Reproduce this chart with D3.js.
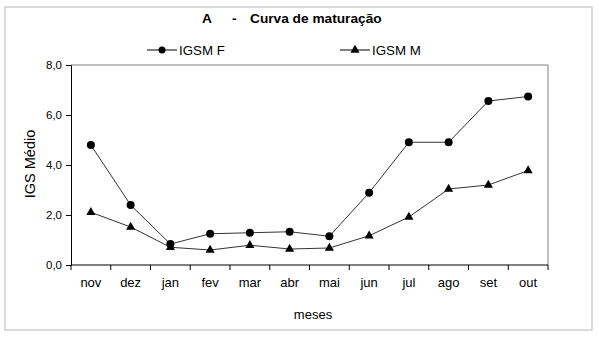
<!DOCTYPE html>
<html><head><meta charset="utf-8">
<script src="https://cdn.jsdelivr.net/npm/d3@7"></script>
<style>body{margin:0;background:#fff}svg{display:block;font-family:"Liberation Sans",Arial,sans-serif}</style>
</head><body>
<svg id="c" width="599" height="341"></svg>
<script>
const months = ["nov","dez","jan","fev","mar","abr","mai","jun","jul","ago","set","out"];
const igsmF = [4.8,2.4,0.84,1.25,1.29,1.33,1.15,2.89,4.91,4.91,6.56,6.74];
const igsmM = [2.11,1.52,0.71,0.6,0.79,0.64,0.68,1.17,1.92,3.04,3.2,3.78];
const yTicks = [0,2,4,6,8];

const svg = d3.select("#c");
const L=71, R=548, T=65, B=265;
svg.append("rect").attr("x",5).attr("y",7).attr("width",587).attr("height",323)
  .attr("fill","none").attr("stroke","#cfcfcf").attr("stroke-width",1.5);

const x = d3.scaleBand().domain(months).range([L,R]);
const y = d3.scaleLinear().domain([0,8]).range([B,T]);

svg.append("path").attr("d",`M${L},${T}H${R}V${B}`).attr("fill","none").attr("stroke","#808080").attr("stroke-width",1);

const yAxis = svg.append("g").attr("transform",`translate(${L},0)`)
  .call(d3.axisLeft(y).tickValues(yTicks).tickSize(5).tickPadding(4).tickFormat(d=>d3.format(".1f")(d).replace(".",",")));
yAxis.selectAll("text").attr("font-size",11.5).attr("fill","#000").attr("font-family","Liberation Sans, Arial");
yAxis.selectAll("line,path").attr("stroke","#000");

const xAxis = svg.append("g").attr("transform",`translate(0,${B})`)
  .call(d3.axisBottom(x).tickSize(0).tickPadding(13));
xAxis.selectAll("text").attr("font-size",13).attr("fill","#000").attr("font-family","Liberation Sans, Arial");
xAxis.select("path").attr("stroke","#000").attr("d",`M${L},0H${R}`);
const bounds = months.map(m=>x(m)).concat([R]);
xAxis.selectAll("line.b").data(bounds).enter().append("line").attr("class","b")
  .attr("x1",d=>d).attr("x2",d=>d).attr("y1",0).attr("y2",5).attr("stroke","#000");

const cx = m=>x(m)+x.bandwidth()/2;
const line = d3.line().x((d,i)=>cx(months[i])).y(d=>y(d));
svg.append("path").datum(igsmF).attr("d",line).attr("fill","none").attr("stroke","#333").attr("stroke-width",1);
svg.append("path").datum(igsmM).attr("d",line).attr("fill","none").attr("stroke","#333").attr("stroke-width",1);
svg.selectAll("circle.f").data(igsmF).enter().append("circle")
  .attr("cx",(d,i)=>cx(months[i])).attr("cy",d=>y(d)).attr("r",4).attr("fill","#000");
const tri = d3.symbol().type(d3.symbolTriangle).size(36);
svg.selectAll("path.m").data(igsmM).enter().append("path").attr("class","m")
  .attr("d",tri).attr("transform",(d,i)=>`translate(${cx(months[i])},${y(d)})`).attr("fill","#000");

const t = svg.append("text").attr("y",23).attr("font-size",13.7).attr("font-weight","bold");
t.append("tspan").attr("x",202).text("A");
t.append("tspan").attr("x",232).text("-");
t.append("tspan").attr("x",250).text("Curva de maturação");

const lg = [{n:"IGSM F",x0:147,sym:"c"},{n:"IGSM M",x0:340,sym:"t"}];
lg.forEach(d=>{
  svg.append("line").attr("x1",d.x0).attr("x2",d.x0+30).attr("y1",50).attr("y2",50).attr("stroke","#000");
  if(d.sym==="c") svg.append("circle").attr("cx",d.x0+15).attr("cy",50).attr("r",3.5).attr("fill","#000");
  else svg.append("path").attr("d",tri).attr("transform",`translate(${d.x0+15},50)`).attr("fill","#000");
  svg.append("text").attr("x",d.x0+32).attr("y",55).attr("font-size",13.3).text(d.n);
});

svg.append("text").attr("transform","translate(35,164) rotate(-90)").attr("text-anchor","middle").attr("font-size",14.5).text("IGS Médio");
svg.append("text").attr("x",313).attr("y",319).attr("text-anchor","middle").attr("font-size",13).text("meses");
</script>
</body></html>
